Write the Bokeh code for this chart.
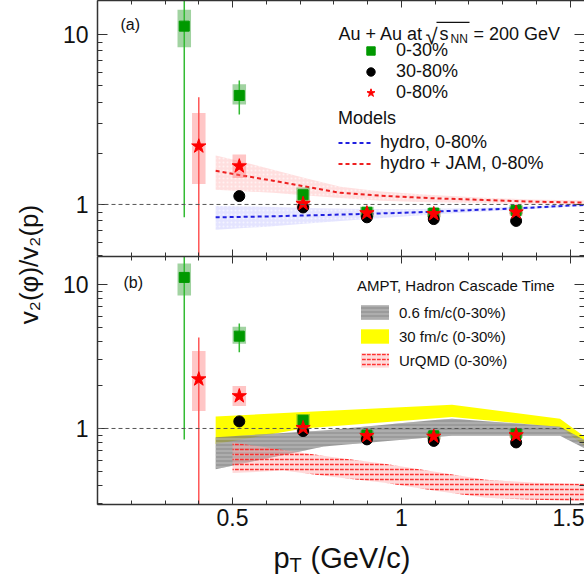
from math import pi
from bokeh.plotting import figure
from bokeh.layouts import row, column
from bokeh.models import (Range1d, FixedTicker, LogAxis, LinearAxis, Span, Label,
                          Legend, LegendItem, CustomJSTickFormatter, CustomLabelingPolicy,
                          BoxAnnotation)
from bokeh.embed import file_html
from bokeh.resources import INLINE

FONT = "Liberation Sans"
TXT = "#111111"

# ---------------- data ----------------
# 0-30% (green squares)
x_030 = [0.357, 0.52, 0.709, 0.898, 1.096, 1.34]
y_030 = [11.2, 4.38, 1.14, 0.90, 0.89, 0.92]
stat_lo_030 = [0.84, 3.38, 1.10, 0.88, 0.87, 0.90]
stat_hi_030 = [20.0, 5.37, 1.18, 0.92, 0.91, 0.94]
sys_lo_030 = [8.4, 3.87, 1.03, 0.84, 0.84, 0.88]
sys_hi_030 = [14.0, 5.09, 1.26, 0.97, 0.95, 0.99]

# 30-80% (black circles)
x_3080 = [0.52, 0.709, 0.898, 1.096, 1.34]
y_3080 = [1.12, 0.96, 0.84, 0.82, 0.80]

# 0-80% (red stars)
x_080 = [0.40, 0.52, 0.709, 0.898, 1.096, 1.34]
y_080 = [2.2, 1.68, 1.01, 0.89, 0.88, 0.90]
stat_lo_080 = [0.2, 1.60, 0.98, 0.87, 0.86, 0.88]
stat_hi_080 = [4.28, 1.76, 1.04, 0.91, 0.90, 0.92]
sys_lo_080 = [1.32, 1.43, 0.95, 0.85, 0.84, 0.86]
sys_hi_080 = [3.45, 1.97, 1.07, 0.93, 0.92, 0.94]

# hydro, 0-80%
x_hydro = [0.45, 0.6, 0.75, 0.9, 1.05, 1.2, 1.35, 1.5, 1.6]
y_hydro = [0.84, 0.85, 0.865, 0.88, 0.90, 0.925, 0.95, 0.985, 1.0]
lo_hydro = [0.71, 0.74, 0.78, 0.82, 0.86, 0.90, 0.93, 0.97, 0.985]
hi_hydro = [0.98, 0.97, 0.95, 0.94, 0.94, 0.95, 0.97, 1.0, 1.015]

# hydro + JAM, 0-80%
x_jam = [0.45, 0.52, 0.62, 0.72, 0.82, 0.94, 1.08, 1.23, 1.38, 1.6]
y_jam = [1.58, 1.49, 1.38, 1.27, 1.17, 1.125, 1.09, 1.065, 1.04, 1.02]
lo_jam = [1.22, 1.20, 1.17, 1.13, 1.09, 1.05, 1.03, 1.02, 1.01, 1.0]
hi_jam = [1.94, 1.80, 1.60, 1.42, 1.27, 1.19, 1.14, 1.10, 1.07, 1.05]

# AMPT 30 fm/c (yellow)
x_ampt30 = [0.45, 0.71, 1.15, 1.47, 1.6]
lo_ampt30 = [0.78, 1.0, 1.20, 1.02, 0.60]
hi_ampt30 = [1.21, 1.30, 1.46, 1.17, 0.70]

# AMPT 0.6 fm/c (gray)
x_ampt06 = [0.45, 0.77, 1.09, 1.15, 1.47, 1.6]
lo_ampt06 = [0.52, 0.75, 0.87, 0.89, 0.89, 0.62]
hi_ampt06 = [0.87, 0.97, 1.14, 1.17, 1.03, 0.70]

# UrQMD (red hatched)
x_urqmd = [0.5, 0.65, 0.8, 0.95, 1.1, 1.25, 1.4, 1.6]
lo_urqmd = [0.49, 0.51, 0.46, 0.42, 0.37, 0.33, 0.32, 0.31]
hi_urqmd = [0.80, 0.71, 0.63, 0.57, 0.50, 0.44, 0.42, 0.41]

X_TICKS = [0.5, 1.0, 1.5]
X_MINOR = [0.1, 0.2, 0.3, 0.4, 0.5, 0.6, 0.7, 0.8, 0.9, 1.0, 1.1, 1.2, 1.3, 1.4, 1.5, 1.6]
Y_TICKS = [1, 10]
Y_MINOR = [0.3, 0.4, 0.5, 0.6, 0.7, 0.8, 0.9, 2, 3, 4, 5, 6, 7, 8, 9]

# ---------------- layout ----------------
LW = 45
FW = 584 - LW
X0, X1 = 0.1, 1.5425
HW = 0.02  # half-width of systematic boxes

fmt = CustomJSTickFormatter(code="return tick.toString()")
no_labels = CustomLabelingPolicy(
    code="try { for (const i of Array.from(indices)) indices.unset(i) } catch (e) {}\nreturn indices")


def make_fig(h, ylo, yhi, bottom_border, show_xlabels):
    p = figure(width=FW, height=h, x_range=Range1d(X0, X1), y_range=Range1d(ylo, yhi),
               y_axis_type="log", output_backend="svg", toolbar_location=None,
               min_border_left=97 - LW, min_border_right=0, min_border_top=0,
               min_border_bottom=bottom_border)
    p.xgrid.visible = False
    p.ygrid.visible = False
    p.outline_line_color = None
    p.add_layout(LogAxis(), "right")
    p.add_layout(LinearAxis(), "above")
    for ax in list(p.xaxis) + list(p.yaxis):
        ax.axis_line_color = "#333333"
        ax.axis_line_width = 1.5
        ax.major_tick_line_color = "#333333"
        ax.minor_tick_line_color = "#333333"
        ax.major_tick_out = 0
        ax.minor_tick_out = 0
        ax.major_label_text_font = FONT
        ax.major_label_text_color = TXT
        ax.major_label_text_font_size = "0px"
        ax.major_label_standoff = 0
        ax.major_label_policy = no_labels
        ax.formatter = fmt
    for ax in p.xaxis:
        ax.ticker = FixedTicker(ticks=X_TICKS, minor_ticks=X_MINOR)
        ax.major_tick_in = 7
        ax.minor_tick_in = 4
    for ax in p.yaxis:
        ax.ticker = FixedTicker(ticks=Y_TICKS, minor_ticks=Y_MINOR)
        ax.major_tick_in = 10
        ax.minor_tick_in = 5
    p.right[0].axis_line_color = None
    left = p.left[0]
    left.major_label_text_font_size = "23px"
    left.major_label_standoff = 9
    left.major_label_policy = CustomLabelingPolicy(code="return indices")
    if show_xlabels:
        b = p.below[0]
        b.major_label_text_font_size = "23px"
        b.major_label_standoff = 4
        b.major_label_policy = CustomLabelingPolicy(code="return indices")
    p.add_layout(Span(location=1, dimension="width", line_color="#555555",
                      line_dash="4 3", line_width=1))
    return p


def draw_data(p):
    left030 = [x - HW for x in x_030]
    right030 = [x + HW for x in x_030]
    left080 = [x - HW for x in x_080]
    right080 = [x + HW for x in x_080]
    p.quad(left=left030, right=right030, bottom=sys_lo_030, top=sys_hi_030,
           fill_color="#2e9e2e", fill_alpha=0.45, line_color=None)
    p.quad(left=left080, right=right080, bottom=sys_lo_080, top=sys_hi_080,
           fill_color="#ff7070", fill_alpha=0.4, line_color=None)
    p.segment(x0=x_030, y0=stat_lo_030, x1=x_030, y1=stat_hi_030,
              line_color="#33bb33", line_width=1.5)
    p.segment(x0=x_080, y0=stat_lo_080, x1=x_080, y1=stat_hi_080,
              line_color="#ff5555", line_width=1.5)
    r_sq = p.scatter(x_030, y_030, marker="square", size=10, fill_color="#009900",
                     line_color="#009900")
    r_ci = p.scatter(x_3080, y_3080, marker="circle", size=11, fill_color="black",
                     line_color="black")
    r_st = p.scatter(x_080, y_080, marker="star", size=15, fill_color="#ff0000",
                     line_color="#ff0000")
    return r_sq, r_ci, r_st


def lab(p, x, y, text, size, **kw):
    p.add_layout(Label(x=x, y=y, x_units="screen", y_units="screen", text=text,
                       text_font=FONT, text_font_size=size, text_color=TXT,
                       text_baseline="alphabetic", **kw))


# ---------------- panel (a) ----------------
pa = make_fig(256, 0.494, 15.85, 0, False)
pa.varea(x=x_jam, y1=lo_jam, y2=hi_jam, fill_color="#ffb8b8", fill_alpha=0.45,
         hatch_pattern="dot", hatch_color="#ffffff", hatch_alpha=0.6, hatch_scale=4)
pa.varea(x=x_hydro, y1=lo_hydro, y2=hi_hydro, fill_color="#c4c4ff", fill_alpha=0.45,
         hatch_pattern="dot", hatch_color="#ffffff", hatch_alpha=0.6, hatch_scale=4)
r_hydro = pa.line(x_hydro, y_hydro, line_color="#2020e0", line_width=2, line_dash="4 3")
r_jam = pa.line(x_jam, y_jam, line_color="#ee2020", line_width=2, line_dash="4 3")
r_sq, r_ci, r_st = draw_data(pa)

leg1 = Legend(items=[LegendItem(label="0-30%", renderers=[r_sq]),
                     LegendItem(label="30-80%", renderers=[r_ci]),
                     LegendItem(label="0-80%", renderers=[r_st])],
              location=(261, 153), padding=0, margin=0, spacing=0,
              glyph_width=25, glyph_height=21, label_standoff=13, label_height=10,
              background_fill_alpha=0, border_line_color=None,
              label_text_font=FONT, label_text_font_size="18px", label_text_color=TXT)
pa.add_layout(leg1)
leg2 = Legend(items=[LegendItem(label="hydro, 0-80%", renderers=[r_hydro]),
                     LegendItem(label="hydro + JAM, 0-80%", renderers=[r_jam])],
              location=(241, 82), padding=0, margin=0, spacing=0,
              glyph_width=34, glyph_height=21, label_standoff=8, label_height=10,
              background_fill_alpha=0, border_line_color=None,
              title="Models", title_text_font=FONT, title_text_font_style="normal",
              title_text_font_size="18px", title_text_color=TXT, title_standoff=3,
              label_text_font=FONT, label_text_font_size="18px", label_text_color=TXT)
pa.add_layout(leg2)

lab(pa, 23, 232, "(a)", "16px")
lab(pa, 241, 223, "Au + Au at", "18px")
lab(pa, 328, 220, "\u221a", "22px")
lab(pa, 342, 223, "s", "18px")
lab(pa, 353, 218, "NN", "12px")
lab(pa, 376, 223, "= 200 GeV", "18px")
pa.add_layout(BoxAnnotation(left=339, right=372, bottom=233.6, top=234.8,
                            left_units="screen", right_units="screen",
                            bottom_units="screen", top_units="screen",
                            fill_color=TXT, fill_alpha=1.0, line_color=None))

# ---------------- panel (b) ----------------
pb = make_fig(279, 0.2965, 15.65, 31, True)
r_y = pb.varea(x=x_ampt30, y1=lo_ampt30, y2=hi_ampt30, fill_color="#ffff00", fill_alpha=1.0)
r_g = pb.varea(x=x_ampt06, y1=lo_ampt06, y2=hi_ampt06, fill_color="#7a7a7a", fill_alpha=0.75,
               hatch_pattern="horizontal_line", hatch_color="#c8c8c8", hatch_scale=4,
               hatch_weight=1, hatch_alpha=0.8)
r_u = pb.varea(x=x_urqmd, y1=lo_urqmd, y2=hi_urqmd, fill_color="#ffb0b0", fill_alpha=0.45,
               hatch_pattern="horizontal_dash", hatch_color="#ff2020", hatch_scale=5,
               hatch_weight=1.5, hatch_alpha=0.9)
draw_data(pb)

leg3 = Legend(items=[LegendItem(label="0.6 fm/c(0-30%)", renderers=[r_g]),
                     LegendItem(label="30 fm/c (0-30%)", renderers=[r_y]),
                     LegendItem(label="UrQMD (0-30%)", renderers=[r_u])],
              location=(260, 135), padding=0, margin=0, spacing=6,
              glyph_width=35, glyph_height=18, label_standoff=7, label_height=10,
              background_fill_alpha=0, border_line_color=None,
              title="AMPT, Hadron Cascade Time", title_text_font=FONT,
              title_text_font_style="normal", title_text_font_size="15px",
              title_text_color=TXT, title_standoff=9,
              label_text_font=FONT, label_text_font_size="15px", label_text_color=TXT)
pb.add_layout(leg3)

lab(pb, 26, 222, "(b)", "16px")

# ---------------- x-axis title strip ----------------
pt = figure(width=FW, height=574 - 256 - 279, x_range=Range1d(0, 1), y_range=Range1d(0, 1),
            x_axis_location=None, y_axis_location=None, output_backend="svg",
            toolbar_location=None, min_border=0)
pt.xgrid.visible = False
pt.ygrid.visible = False
pt.outline_line_color = None
lab(pt, 273 - 97, 17, "p", "29px")
lab(pt, 289 - 97, 10, "T", "20px")
lab(pt, 310 - 97, 17, "(GeV/c)", "29px")

# ---------------- y-axis title strip ----------------
pl = figure(width=LW, height=574, x_range=Range1d(0, 1), y_range=Range1d(0, 1),
            x_axis_location=None, y_axis_location=None, output_backend="svg",
            toolbar_location=None, min_border=0)
pl.xgrid.visible = False
pl.ygrid.visible = False
pl.outline_line_color = None
pl.add_layout(Label(x=28, y=574 - 264, x_units="screen", y_units="screen",
                    text="v\u2082(\u03c6)/v\u2082(p)", angle=pi / 2, text_align="center",
                    text_baseline="middle", text_font=FONT, text_font_size="26px",
                    text_color=TXT))

layout = row(pl, column(pa, pb, pt))
open("out.html", "w").write(file_html(layout, INLINE))
